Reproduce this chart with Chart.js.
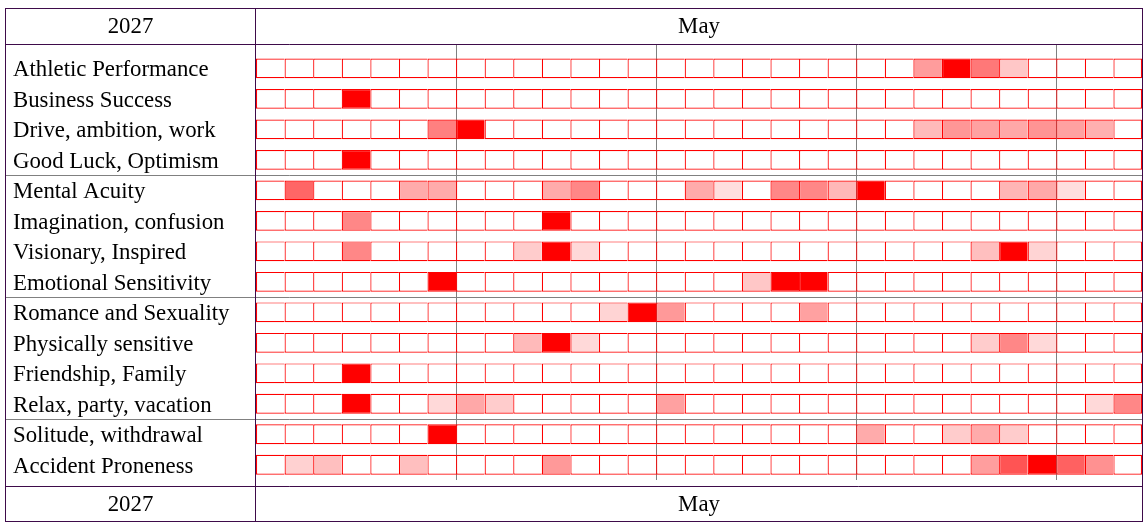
<!DOCTYPE html>
<html>
<head>
<meta charset="utf-8">
<title>May 2027</title>
<script src="https://cdn.jsdelivr.net/npm/chart.js@4.4.0/dist/chart.umd.min.js"></script>
<style>
  html, body { margin: 0; padding: 0; background: #fff; }
  #wrap { position: relative; width: 1148px; height: 531px; }
</style>
</head>
<body>
<div id="wrap"><canvas id="may-chart"></canvas></div>
<script>
const year = "2027";
const month = "May";

const days = [1, 2, 3, 4, 5, 6, 7, 8, 9, 10, 11, 12, 13, 14, 15, 16,
  17, 18, 19, 20, 21, 22, 23, 24, 25, 26, 27, 28, 29, 30, 31];

const rowLabels = [
  "Athletic Performance", "Business Success", "Drive, ambition, work", "Good Luck, Optimism",
  "Mental Acuity", "Imagination, confusion", "Visionary, Inspired", "Emotional Sensitivity",
  "Romance and Sexuality", "Physically sensitive", "Friendship, Family", "Relax, party, vacation",
  "Solitude, withdrawal", "Accident Proneness"
];

// rows per block, blocks are split by a grey rule
const groupSizes = [4, 4, 4, 2];

// strength per day (0 = empty cell, 1 = full red)
//                     1..7                      8..14                      15..21                       22..28                      29..31
const athletic     = [0, 0, 0, 0, 0, 0, 0,       0, 0, 0, 0, 0, 0, 0,       0, 0, 0, 0, 0, 0, 0,         0, 0, .39, 1, .53, .22, 0,  0, 0, 0];
const business     = [0, 0, 0, 1, 0, 0, 0,       0, 0, 0, 0, 0, 0, 0,       0, 0, 0, 0, 0, 0, 0,         0, 0, 0, 0, 0, 0, 0,        0, 0, 0];
const drive        = [0, 0, 0, 0, 0, 0, .5,      1, 0, 0, 0, 0, 0, 0,       0, 0, 0, 0, 0, 0, 0,         0, 0, .27, .41, .37, .34, .42, .37, .31, 0];
const goodLuck     = [0, 0, 0, 1, 0, 0, 0,       0, 0, 0, 0, 0, 0, 0,       0, 0, 0, 0, 0, 0, 0,         0, 0, 0, 0, 0, 0, 0,        0, 0, 0];
const mental       = [0, .6, 0, 0, 0, .33, .33,  0, 0, 0, .33, .47, 0, 0,   0, .33, .13, 0, .47, .47, .28, 1, 0, 0, 0, 0, .29, .34,    .13, 0, 0];
const imagination  = [0, 0, 0, .47, 0, 0, 0,     0, 0, 0, 1, 0, 0, 0,       0, 0, 0, 0, 0, 0, 0,         0, 0, 0, 0, 0, 0, 0,        0, 0, 0];
const visionary    = [0, 0, 0, .47, 0, 0, 0,     0, 0, .2, 1, .15, 0, 0,    0, 0, 0, 0, 0, 0, 0,         0, 0, 0, 0, .25, 1, .17,    0, 0, 0];
const emotional    = [0, 0, 0, 0, 0, 0, 1,       0, 0, 0, 0, 0, 0, 0,       0, 0, 0, .22, 1, 1, 0,       0, 0, 0, 0, 0, 0, 0,        0, 0, 0];
const romance      = [0, 0, 0, 0, 0, 0, 0,       0, 0, 0, 0, 0, .17, 1,     .4, 0, 0, 0, 0, .37, 0,      0, 0, 0, 0, 0, 0, 0,        0, 0, 0];
const physically   = [0, 0, 0, 0, 0, 0, 0,       0, 0, .27, 1, .15, 0, 0,   0, 0, 0, 0, 0, 0, 0,         0, 0, 0, 0, .2, .47, .15,   0, 0, 0];
const friendship   = [0, 0, 0, 1, 0, 0, 0,       0, 0, 0, 0, 0, 0, 0,       0, 0, 0, 0, 0, 0, 0,         0, 0, 0, 0, 0, 0, 0,        0, 0, 0];
const relax        = [0, 0, 0, 1, 0, 0, .15,     .34, .2, 0, 0, 0, 0, 0,    .37, 0, 0, 0, 0, 0, 0,       0, 0, 0, 0, 0, 0, 0,        0, .15, .47];
const solitude     = [0, 0, 0, 0, 0, 0, 1,       0, 0, 0, 0, 0, 0, 0,       0, 0, 0, 0, 0, 0, 0,         .33, 0, 0, .2, .33, .2, 0,  0, 0, 0];
const accident     = [0, .18, .25, 0, 0, .25, 0, 0, 0, 0, .4, 0, 0, 0,      0, 0, 0, 0, 0, 0, 0,         0, 0, 0, 0, .38, .67, 1,    .62, .43, 0];

const weekTicks = [7, 14, 21, 28];

const rows = [athletic, business, drive, goodLuck, mental, imagination, visionary,
  emotional, romance, physically, friendship, relax, solitude, accident];

function tint(t) {
  const c = Math.round(255 * (1 - t));
  return `rgb(255, ${c}, ${c})`;
}

const cells = [];
const fills = [];
rows.forEach((vals, r) => {
  days.forEach((d, i) => {
    cells.push({ y: r, x: [d - 1, d] });
    fills.push(tint(vals[i]));
  });
});

const serif = '"Liberation Serif", "Times New Roman", serif';
const frameColor = "#3e0b4a";

const tableFrame = {
  id: "tableFrame",
  afterDraw(chart) {
    const { ctx, chartArea: area, scales: { y } } = chart;
    const left = 5.5, top = 8.5, right = area.right + 0.5, bottom = 521.5;
    const headLine = Math.round(area.top) + 0.5;
    const footLine = Math.round(area.bottom) + 6.5;
    ctx.save();
    ctx.lineWidth = 1;
    // grey rules between blocks
    ctx.strokeStyle = "#808080";
    let r = 0;
    groupSizes.slice(0, -1).forEach((n) => {
      r += n;
      const py = Math.round(y.getPixelForValue(r - 0.5)) + 0.5;
      ctx.beginPath();
      ctx.moveTo(left, py);
      ctx.lineTo(right, py);
      ctx.stroke();
    });
    // outer frame, header and footer rows
    ctx.strokeStyle = frameColor;
    ctx.strokeRect(left, top, right - left, bottom - top);
    ctx.beginPath();
    ctx.moveTo(left, headLine); ctx.lineTo(right, headLine);
    ctx.moveTo(left, footLine); ctx.lineTo(right, footLine);
    const div = Math.round(area.left) - 0.5;
    ctx.moveTo(div, top); ctx.lineTo(div, bottom);
    ctx.stroke();
    // header / footer text
    ctx.fillStyle = "#000";
    ctx.font = "22.8px " + serif;
    ctx.textAlign = "center";
    ctx.textBaseline = "middle";
    const yearX = (left + div) / 2, monthX = (div + right) / 2;
    const headY = (top + headLine) / 2 + 1, footY = (footLine + bottom) / 2 + 1;
    ctx.fillText(year, yearX, headY);
    ctx.fillText(month, monthX, headY);
    ctx.fillText(year, yearX, footY);
    ctx.fillText(month, monthX, footY);
    ctx.restore();
  }
};

new Chart(document.getElementById("may-chart"), {
  type: "bar",
  data: {
    datasets: [
      {
        data: cells,
        backgroundColor: fills,
        borderColor: "#ff0000",
        borderWidth: (c) => ({ top: 1.2, bottom: 1.2, left: 1.2, right: c.raw && c.raw.x[1] === days.length ? 1.2 : 0 }),
        borderSkipped: false,
        inflateAmount: 0,
        barPercentage: 0.65,
        categoryPercentage: 1,
      },
    ],
  },
  options: {
    indexAxis: "y",
    responsive: true,
    maintainAspectRatio: false,
    animation: false,
    events: [],
    layout: { padding: { left: 13, right: 6, top: 44, bottom: 51 } },
    plugins: {
      legend: { display: false },
      tooltip: { enabled: false },
    },
    scales: {
      x: {
        type: "linear",
        min: 0,
        max: days.length,
        offset: false,
        afterBuildTicks: (scale) => {
          scale.ticks = weekTicks.map((v) => ({ value: v }));
        },
        afterFit: (scale) => { scale.height = 0; },
        ticks: { display: false },
        grid: { color: "#808080", lineWidth: 1, drawTicks: false, offset: false },
        border: { display: false },
      },
      y: {
        type: "linear",
        reverse: true,
        min: -0.8,
        max: 13.5,
        offset: false,
        afterBuildTicks: (scale) => {
          scale.ticks = rowLabels.map((_, i) => ({ value: i }));
        },
        afterFit: (scale) => { scale.width = 243; },
        ticks: {
          autoSkip: false,
          crossAlign: "far",
          padding: 0,
          labelOffset: 2,
          color: "#000",
          font: { family: serif, size: 22.8 },
          callback: (v) => rowLabels[v],
        },
        grid: { display: false, offset: false },
        border: { display: false },
      },
    },
  },
  plugins: [tableFrame],
});
</script>
</body>
</html>
